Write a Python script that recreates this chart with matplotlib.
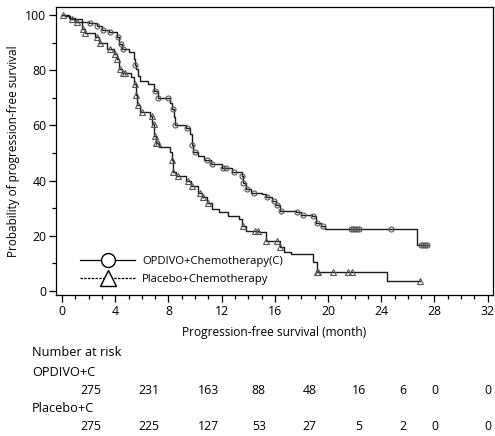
import numpy as np
import matplotlib.pyplot as plt
from matplotlib.lines import Line2D
from matplotlib.ticker import MultipleLocator

plt.rcParams['font.family'] = ['Open Sans', 'DejaVu Sans']

# OPDIVO + chemo: step drops (month, % after drop)
opd_t = [0.5, 1.0, 1.5, 2.0, 2.6, 3.0, 3.5, 4.1, 4.3, 4.5, 5.0, 5.4, 5.5, 5.6, 5.75,
         5.9, 6.5, 6.9, 7.2, 8.1, 8.3, 8.4, 8.5, 9.3, 9.6, 9.75, 9.85, 10.2, 10.7,
         11.2, 12.0, 12.8, 13.5, 13.6, 13.8, 14.2, 15.0, 15.3, 15.8, 16.1, 16.4,
         17.6, 18.0, 18.8, 19.1, 19.5, 19.8, 26.7]
opd_s = [99, 98.5, 97.5, 97, 96, 94.5, 94, 92, 89.5, 87.5, 86.5, 84, 82, 80.5, 78,
         76, 75, 72.5, 70, 68, 66, 63, 60, 59, 57, 53, 50.5, 49, 47.5,
         46, 44.5, 43, 41.5, 39, 37, 35.5, 35, 34, 32.5, 31, 29,
         28.5, 27.5, 27, 24.5, 23.5, 22.5, 16.5]
opd_end = 27.5
opd_cens = [2.1, 2.6, 3.1, 3.6, 4.2, 4.4, 4.6, 5.5, 7.0, 7.2, 8.0, 8.35, 8.5, 9.4,
            9.8, 10.0, 10.9, 11.3, 12.1, 12.3, 12.9, 13.5, 13.6, 13.9, 14.4, 15.4,
            15.9, 16.2, 16.5, 17.7, 18.1, 18.9, 19.2, 19.6, 21.7, 21.85, 22.0,
            22.15, 22.3, 24.7, 27.0, 27.15, 27.3, 27.45]

# Placebo + chemo
pla_t = [0.2, 0.6, 1.0, 1.5, 1.7, 2.5, 2.8, 3.4, 3.9, 4.1, 4.3, 4.5, 5.2, 5.4, 5.55,
         5.65, 5.9, 6.6, 6.8, 6.95, 7.05, 7.3, 8.1, 8.25, 8.35, 8.6, 9.3, 9.7, 10.2,
         10.5, 10.9, 11.3, 11.8, 12.5, 13.3, 13.55, 13.8, 14.8, 15.3, 16.4, 16.7,
         17.2, 18.9, 19.2, 24.4]
pla_s = [99.5, 98.5, 97.5, 95, 93.5, 92, 90, 87.5, 86, 84, 80.5, 79, 77.5, 75, 71,
         67.5, 65, 63.5, 60.5, 56, 53.5, 52, 50.5, 47.5, 43, 41.5, 40, 38, 35.5,
         34, 32, 29.5, 28.5, 27, 26, 23.5, 21.6, 21.2, 18, 16, 14,
         13.2, 10.5, 6.7, 3.4]
pla_end = 26.9
pla_cens = [0.1, 0.75, 1.1, 1.6, 1.7, 2.6, 2.85, 3.6, 4.0, 4.1, 4.35, 4.6, 4.7, 5.5,
            5.6, 5.7, 6.0, 6.75, 6.9, 7.0, 7.1, 7.2, 8.3, 8.35, 8.7, 9.5, 9.8, 10.4,
            10.6, 11.0, 13.6, 14.5, 14.7, 15.3, 16.2, 16.4, 19.2, 19.25, 20.4, 21.5,
            21.8, 26.9]

risk_months = [0, 4, 8, 12, 16, 20, 24, 28, 32]
risk_opd = [275, 231, 163, 88, 48, 16, 6, 0, 0]
risk_pla = [275, 225, 127, 53, 27, 5, 2, 0, 0]
risk_x = [2.2, 6.5, 11.0, 14.8, 18.6, 22.3, 25.6, 28.0, 32.0]  # layout only


def km(t, s, end):
    tt = np.array([0] + t + [end])
    ss = np.array([100] + s + [s[-1]])
    return tt, ss


def at(tt, ss, c):
    idx = np.searchsorted(tt, np.array(c), side='right') - 1
    return ss[np.clip(idx, 0, len(ss) - 1)]


W, H = 495, 436
fig = plt.figure(figsize=(W / 100, H / 100), dpi=100)
ax = fig.add_axes([56 / W, 1 - 295 / H, 437 / W, 288 / H])

t1, s1 = km(opd_t, opd_s, opd_end)
t2, s2 = km(pla_t, pla_s, pla_end)
ax.step(t1, s1, where='post', color='#1a1a1a', lw=1.0)
ax.step(t2, s2, where='post', color='#1a1a1a', lw=1.0)
ax.plot(opd_cens, at(t1, s1, opd_cens), 'o', ms=3.6, mfc='none', mec='#555555', mew=0.8)
ax.plot(pla_cens, at(t2, s2, pla_cens), '^', ms=4.6, mfc='none', mec='#555555', mew=0.8)

ax.set_xlim(-0.45, 32.4)
ax.set_ylim(-1.5, 102.9)
ax.xaxis.set_major_locator(MultipleLocator(4))
ax.xaxis.set_minor_locator(MultipleLocator(1))
ax.yaxis.set_major_locator(MultipleLocator(20))
ax.yaxis.set_minor_locator(MultipleLocator(10))
ax.tick_params(which='major', length=5, width=0.9, labelsize=8.8, pad=2)
ax.tick_params(which='minor', length=3, width=0.9)
for sp in ax.spines.values():
    sp.set_linewidth(0.9)

ax.set_xlabel('Progression-free survival (month)', fontsize=8.6, labelpad=6)
ax.set_ylabel('Probability of progression-free survival', fontsize=8.5, labelpad=4)

handles = [
    Line2D([], [], color='k', lw=0.9, marker='o', ms=10, mfc='white', mec='k'),
    Line2D([], [], color='k', lw=0.9, ls=(0, (2, 1)), marker='^', ms=11, mfc='white', mec='k'),
]
ax.legend(handles, ['OPDIVO+Chemotherapy(C)', 'Placebo+Chemotherapy'],
          loc='lower left', bbox_to_anchor=(0.055, 0.035), frameon=False,
          fontsize=8.1, handlelength=4.9, handletextpad=0.6, labelspacing=0.6,
          borderpad=0, borderaxespad=0)

# number at risk table
fy = lambda py: 1 - py / H
fig.text(32 / W, fy(353), 'Number at risk', fontsize=9.2, va='center')
fig.text(32 / W, fy(372), 'OPDIVO+C', fontsize=9.2, va='center')
fig.text(32 / W, fy(408), 'Placebo+C', fontsize=9.2, va='center')
tr = ax.get_xaxis_transform()
for x, a, b in zip(risk_x, risk_opd, risk_pla):
    ax.text(x, (H - 390 - (H - 295)) / 288, str(a), transform=tr, fontsize=8.8,
            ha='center', va='center', clip_on=False)
    ax.text(x, (H - 427 - (H - 295)) / 288, str(b), transform=tr, fontsize=8.8,
            ha='center', va='center', clip_on=False)

fig.savefig('out.png', dpi=100)
